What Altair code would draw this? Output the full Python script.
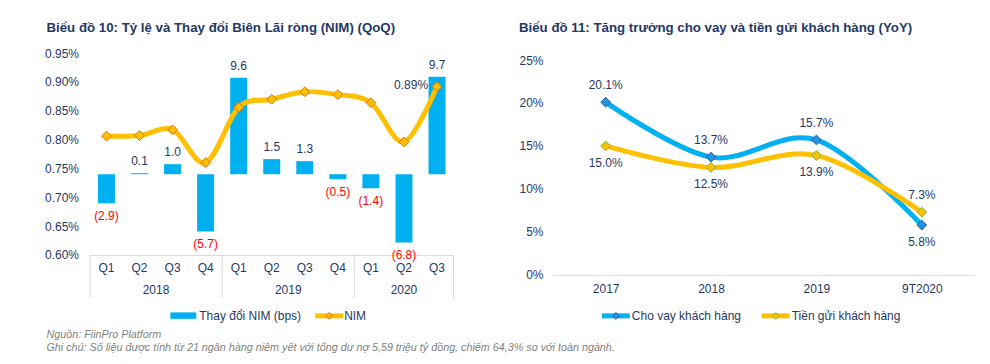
import altair as alt
import pandas as pd

# ---------------- data ----------------
years = ["2018", "2018", "2018", "2018", "2019", "2019", "2019", "2019", "2020", "2020", "2020"]
quarters = ["Q1", "Q2", "Q3", "Q4", "Q1", "Q2", "Q3", "Q4", "Q1", "Q2", "Q3"]
nim = [0.806, 0.807, 0.817, 0.760, 0.856, 0.870, 0.883, 0.878, 0.864, 0.796, 0.892]
nim_change_bps = [-2.9, 0.1, 1.0, -5.7, 9.6, 1.5, 1.3, -0.5, -1.4, -6.8, 9.7]
nim_ticks = [0.60, 0.65, 0.70, 0.75, 0.80, 0.85, 0.90, 0.95]

periods = ["2017", "2018", "2019", "9T2020"]
loan_growth = [20.1, 13.7, 15.7, 5.8]
deposit_growth = [15.0, 12.5, 13.9, 7.3]
growth_ticks = [0, 5, 10, 15, 20, 25]

series_names = ["Cho vay khách hàng", "Tiền gửi khách hàng"]

title_left = "Biểu đồ 10: Tỷ lệ và Thay đổi Biên Lãi ròng (NIM) (QoQ)"
title_right = "Biểu đồ 11: Tăng trưởng cho vay và tiền gửi khách hàng (YoY)"
legend_left = ["Thay đổi NIM (bps)", "NIM"]
source_note = "Nguồn: FiinPro Platform"
footnote = "Ghi chú: Số liệu được tính từ 21 ngân hàng niêm yết với tổng dư nợ 5,59 triệu  tỷ đồng, chiếm 64,3% so với toàn ngành."

# ---------------- styling ----------------
FONT = "Liberation Sans"
FS = 12
NAVY = "#1F3864"
BLUE = "#00B0F0"
YELLOW = "#FFC000"
ORANGE = "#E36C0A"
MBLUE = "#2196E8"
MBLUE_S = "#2F5597"
GREEN_S = "#7FAF3A"
GRID = "#D9D9D9"
RED = "#FF0000"
GRAY = "#7F7F7F"

keys = [f"{y}-{q}" for y, q in zip(years, quarters)]
df = pd.DataFrame({"year": years, "q": quarters, "key": keys, "nim": nim, "chg": nim_change_bps})

W1, H1 = 364, 202
W2, H2 = 422, 222
one = pd.DataFrame({"d": [0]})

xaxis_left = alt.Axis(
    title=None, labelExpr="split(datum.value, '-')[1]", labelAngle=0, ticks=False,
    domain=True, domainColor=GRID, labelPadding=7.5, labelColor=NAVY, labelFont=FONT,
    labelFontSize=FS, grid=False,
)
xscale_left = alt.Scale(domain=keys, paddingInner=0, paddingOuter=0)


def xl(**kw):
    return alt.X("key:N", sort=keys, scale=xscale_left, axis=xaxis_left, **kw)


bar_scale = alt.Scale(domain=[-8.04, 12.06], nice=False, zero=False)
nim_scale = alt.Scale(domain=[0.60, 0.95], nice=False, zero=False)
yaxis_left = alt.Axis(
    values=nim_ticks, labelExpr="format(datum.value, '.2f') + '%'", title=None,
    domain=False, ticks=False, grid=False, labelPadding=11.5, labelColor=NAVY,
    labelFont=FONT, labelFontSize=FS,
)

base = alt.Chart(df)
bars = base.mark_bar(color=BLUE, width=17).encode(
    x=xl(), y=alt.Y("chg:Q", scale=bar_scale, axis=None)
)
pos_lbl = base.transform_filter("datum.chg >= 0").mark_text(
    dy=-12, baseline="middle", font=FONT, fontSize=FS, color=NAVY
).encode(x=xl(), y=alt.Y("chg:Q", scale=bar_scale, axis=None), text=alt.Text("chg:Q", format=".1f"))
neg_lbl = base.transform_filter("datum.chg < 0").transform_calculate(
    lbl="'(' + format(abs(datum.chg), '.1f') + ')'"
).mark_text(dy=12.5, baseline="middle", font=FONT, fontSize=FS, color=RED).encode(
    x=xl(), y=alt.Y("chg:Q", scale=bar_scale, axis=None), text="lbl:N"
)
bar_group = alt.layer(bars, pos_lbl, neg_lbl)

line = base.mark_line(color=YELLOW, strokeWidth=5, interpolate="cardinal").encode(
    x=xl(), y=alt.Y("nim:Q", scale=nim_scale, axis=yaxis_left)
)
pts = base.mark_point(
    shape="diamond", filled=True, fill=YELLOW, stroke=ORANGE, strokeWidth=1, size=95, opacity=1
).encode(x=xl(), y=alt.Y("nim:Q", scale=nim_scale, axis=yaxis_left))
last_lbl = base.transform_filter(f"datum.key == '{keys[-1]}'").transform_calculate(
    lbl="format(datum.nim, '.2f') + '%'"
).mark_text(align="right", baseline="middle", dx=-9, dy=-2, font=FONT, fontSize=FS, color=NAVY).encode(
    x=xl(), y=alt.Y("nim:Q", scale=nim_scale, axis=yaxis_left), text="lbl:N"
)
line_group = alt.layer(line, pts, last_lbl)

# year boxes under the quarter axis
rules_start = base.transform_filter("datum.q == 'Q1'").mark_rule(color=GRID, strokeWidth=1).encode(
    x=xl(bandPosition=0), y=alt.value(H1), y2=alt.value(H1 + 43)
)
rules_end = base.transform_filter(f"datum.key == '{keys[-1]}'").mark_rule(color=GRID, strokeWidth=1).encode(
    x=xl(bandPosition=1), y=alt.value(H1), y2=alt.value(H1 + 43)
)
year_base = base.transform_aggregate(n="count()", groupby=["year"]).transform_calculate(
    key="datum.year + '-Q2'"
)
year4 = year_base.transform_filter("datum.n == 4").mark_text(
    baseline="middle", font=FONT, fontSize=FS, color=NAVY
).encode(x=xl(bandPosition=1), y=alt.value(H1 + 35), text="year:N")
year3 = year_base.transform_filter("datum.n == 3").mark_text(
    baseline="middle", font=FONT, fontSize=FS, color=NAVY
).encode(x=xl(bandPosition=0.5), y=alt.value(H1 + 35), text="year:N")


def txt(s, x, y, **kw):
    props = dict(align="left", baseline="middle", font=FONT, fontSize=FS, color=NAVY)
    props.update(kw)
    return alt.Chart(one).mark_text(text=s, **props).encode(x=alt.value(x), y=alt.value(y))


anchor = alt.Chart(one).mark_rect(fillOpacity=0, strokeOpacity=0).encode(
    x=alt.value(-81.5), x2=alt.value(892.5), y=alt.value(-45), y2=alt.value(303)
)

ttl_l = txt(title_left, -43.5, -25, fontWeight="bold", fontSize=13.3)
leg_l_rect = alt.Chart(one).mark_rect(color=BLUE).encode(
    x=alt.value(80.5), x2=alt.value(106.5), y=alt.value(259.5), y2=alt.value(266)
)
leg_l_txt1 = txt(legend_left[0], 109.5, 263)
leg_l_line = alt.Chart(one).mark_rule(color=YELLOW, strokeWidth=5).encode(
    x=alt.value(225.5), x2=alt.value(253.5), y=alt.value(263)
)
leg_l_pt = alt.Chart(one).mark_point(
    shape="diamond", filled=True, fill=YELLOW, stroke=ORANGE, strokeWidth=1, size=45, opacity=1
).encode(x=alt.value(239.5), y=alt.value(263))
leg_l_txt2 = txt(legend_left[1], 254.5, 263)
src = txt(source_note, -43.5, 282, fontStyle="italic", fontSize=10.8, color=GRAY)
note = txt(footnote, -43.5, 295, fontStyle="italic", fontSize=10.8, color=GRAY)

left = alt.layer(
    anchor, bar_group, line_group, rules_start, rules_end, year4, year3,
    ttl_l, leg_l_rect, leg_l_txt1, leg_l_line, leg_l_pt, leg_l_txt2, src, note,
).resolve_scale(y="independent").properties(width=W1, height=H1)

# ---------------- right chart ----------------
df2 = pd.concat([
    pd.DataFrame({"period": periods, "series": series_names[0], "value": loan_growth}),
    pd.DataFrame({"period": periods, "series": series_names[1], "value": deposit_growth}),
], ignore_index=True)

xaxis_right = alt.Axis(
    title=None, labelAngle=0, ticks=False, domain=True, domainColor=GRID, labelPadding=9,
    labelColor=NAVY, labelFont=FONT, labelFontSize=FS, grid=False,
)
yaxis_right = alt.Axis(
    values=growth_ticks, labelExpr="datum.value + '%'", title=None, domain=False, ticks=False,
    grid=False, labelPadding=10, labelColor=NAVY, labelFont=FONT, labelFontSize=FS,
)
xr = alt.X("period:N", sort=periods, scale=alt.Scale(domain=periods, paddingInner=0, paddingOuter=0), axis=xaxis_right)
yr = alt.Y("value:Q", scale=alt.Scale(domain=[0, 25.8], nice=False, zero=True), axis=yaxis_right)
col = alt.Color("series:N", scale=alt.Scale(domain=series_names, range=[BLUE, YELLOW]), legend=None)
fil = alt.Fill("series:N", scale=alt.Scale(domain=series_names, range=[MBLUE, YELLOW]), legend=None)
stk = alt.Stroke("series:N", scale=alt.Scale(domain=series_names, range=[MBLUE_S, GREEN_S]), legend=None)

b2 = alt.Chart(df2)
lines2 = b2.mark_line(strokeWidth=5, interpolate="cardinal").encode(x=xr, y=yr, color=col, detail="series:N")
pts2 = b2.mark_point(shape="diamond", filled=True, strokeWidth=1, size=95, opacity=1).encode(
    x=xr, y=yr, fill=fil, stroke=stk
)
lab_base = b2.transform_joinaggregate(maxv="max(value)", groupby=["period"]).transform_calculate(
    lbl="format(datum.value, '.1f') + '%'"
)
lab_up = lab_base.transform_filter("datum.value == datum.maxv").mark_text(
    dy=-17, baseline="middle", font=FONT, fontSize=FS, color=NAVY
).encode(x=xr, y=yr, text="lbl:N")
lab_dn = lab_base.transform_filter("datum.value < datum.maxv").mark_text(
    dy=17, baseline="middle", font=FONT, fontSize=FS, color=NAVY
).encode(x=xr, y=yr, text="lbl:N")

ttl_r = txt(title_right, -34, -25, fontWeight="bold", fontSize=13.3)
leg_r = []
for i, (x0, c, f, s) in enumerate([(49, BLUE, MBLUE, MBLUE_S), (209, YELLOW, YELLOW, GREEN_S)]):
    leg_r.append(alt.Chart(one).mark_rule(color=c, strokeWidth=5).encode(
        x=alt.value(x0), x2=alt.value(x0 + 28), y=alt.value(263)))
    leg_r.append(alt.Chart(one).mark_point(
        shape="diamond", filled=True, fill=f, stroke=s, strokeWidth=1, size=45, opacity=1
    ).encode(x=alt.value(x0 + 14), y=alt.value(263)))
    leg_r.append(txt(series_names[i], x0 + 30, 263))

right = alt.layer(lines2, pts2, lab_up, lab_dn, ttl_r, *leg_r).properties(width=W2, height=H2)

chart = alt.hconcat(left, right, spacing=99.5, bounds="flush").properties(padding=0).configure_view(stroke=None)

chart.save("out.html", embed_options={"renderer": "svg", "actions": False})
